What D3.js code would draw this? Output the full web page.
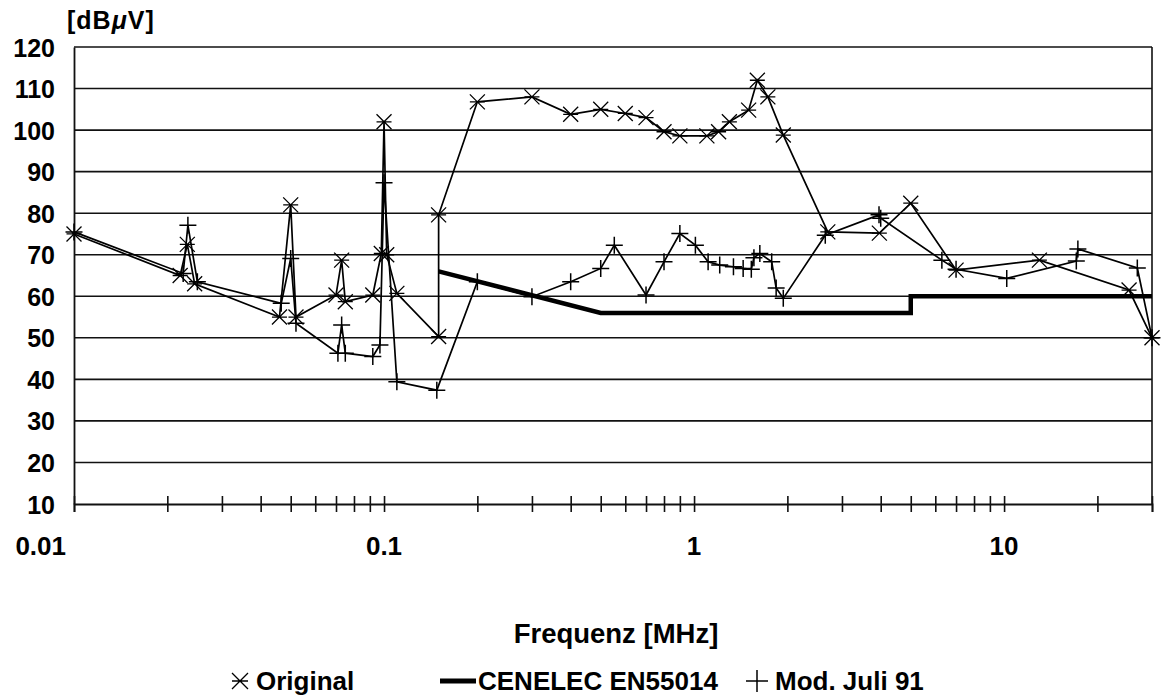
<!DOCTYPE html>
<html>
<head>
<meta charset="utf-8">
<script src="https://cdn.jsdelivr.net/npm/d3@7"></script>
<style>
  html, body { margin: 0; padding: 0; background: #fff; }
  svg text { font-family: "Liberation Sans", Arial, Helvetica, sans-serif; font-weight: bold; fill: #000; }
</style>
</head>
<body>
<svg id="chart" width="1161" height="699"></svg>
<script>
// Interference voltage spectrum, log frequency axis
const yTicks = [10, 20, 30, 40, 50, 60, 70, 80, 90, 100, 110, 120];
const xLabelTicks = [0.01, 0.1, 1, 10];
const xLabelText = ["0.01", "0.1", "1", "10"];

// "Original" measurement
const origFreq  = [0.01, 0.022, 0.0232, 0.0245, 0.046, 0.05, 0.052, 0.07, 0.073, 0.075, 0.092, 0.098, 0.1, 0.102, 0.11,
                   0.15, 0.15, 0.2, 0.3, 0.4, 0.5, 0.6, 0.7, 0.8, 0.9, 1.1, 1.2, 1.3, 1.5, 1.6, 1.73, 1.94,
                   2.7, 3.96, 5.0, 7.0, 13, 25.3, 30];
const origLevel = [75, 65, 72.5, 63, 55, 82, 55, 60.3, 68.7, 58.7, 60.3, 70.3, 102, 70, 60.7,
                   50.3, 79.6, 106.8, 108, 103.8, 105, 104, 103, 99.6, 98.6, 98.6, 99.6, 102, 104.8, 112, 108, 98.8,
                   75.5, 75.2, 82.4, 66.3, 68.7, 61.5, 50];

// CENELEC EN55014 limit
const limFreq  = [0.15, 0.5, 5, 5, 30];
const limLevel = [66, 56, 56, 60, 60];

// "Mod. Juli 91" measurement
const modFreq  = [0.01, 0.0225, 0.0233, 0.025, 0.0466, 0.05, 0.052, 0.071, 0.073, 0.075, 0.092, 0.097, 0.1, 0.11,
                  0.148, 0.2, 0.3, 0.4, 0.5, 0.553, 0.7, 0.8, 0.9, 1.01, 1.11, 1.21, 1.34, 1.44, 1.53, 1.56, 1.63, 1.78, 1.84, 1.94,
                  2.65, 3.95, 4.0, 6.3, 7.0, 10.2, 17.1, 17.3, 26.9, 30];
const modLevel = [75.5, 65.5, 77.1, 63.5, 58.3, 69.1, 53.5, 46.3, 53.1, 46.3, 45.5, 48.3, 87.3, 39.4,
                  37.4, 63.5, 59.9, 63.5, 66.7, 72.3, 60.3, 68.3, 75.1, 72.3, 68.3, 67.5, 67.1, 66.7, 66.5, 69.3, 70.3, 68.3, 62, 59.5,
                  74.7, 79.6, 78.8, 68.7, 66.5, 64.3, 68.5, 71.4, 66.8, 50];

const svg = d3.select("#chart");
const x = d3.scaleLog().domain([0.01, 30]).range([74, 1152]);
const y = d3.scaleLinear().domain([10, 120]).range([504, 47]);

// horizontal grid lines
svg.append("g").selectAll("line")
  .data(yTicks.filter(v => v > 10))
  .join("line")
  .attr("x1", x(0.01)).attr("x2", x(30))
  .attr("y1", d => y(d)).attr("y2", d => y(d))
  .attr("stroke", "#111").attr("stroke-width", 1.6);

// right frame edge
svg.append("line")
  .attr("x1", x(30)).attr("x2", x(30)).attr("y1", y(120)).attr("y2", y(10))
  .attr("stroke", "#111").attr("stroke-width", 1.6);

// y axis
const yAxis = d3.axisLeft(y).tickValues(yTicks).tickSize(0).tickPadding(19).tickFormat(d3.format("d"));
const gy = svg.append("g").attr("transform", `translate(${x(0.01)},0)`).call(yAxis);
gy.select(".domain").attr("stroke", "#111").attr("stroke-width", 1.8);
gy.selectAll("text").attr("font-size", 25).attr("dy", "0.36em");

// x axis: ticks at every 1..9 multiple, crossing the axis line
const minorTicks = [];
[0.01, 0.1, 1, 10].forEach(dec => {
  for (let k = 1; k <= 9; k++) {
    const v = +(dec * k).toPrecision(3);
    if (v <= 30) minorTicks.push(v);
  }
});
const xAxis = d3.axisBottom(x).tickValues(minorTicks).tickSize(8).tickFormat("");
const gx = svg.append("g").attr("transform", `translate(0,${y(10)})`).call(xAxis);
gx.select(".domain").attr("stroke", "#111").attr("stroke-width", 1.8);
gx.selectAll(".tick line").attr("y1", -8).attr("y2", 8).attr("stroke", "#111").attr("stroke-width", 1.6);

// x tick labels
svg.append("g").selectAll("text")
  .data(xLabelTicks)
  .join("text")
  .attr("x", (d, i) => i === 0 ? x(d) - 8 : x(d))
  .attr("y", 555)
  .attr("text-anchor", (d, i) => i === 0 ? "end" : "middle")
  .attr("font-size", 26)
  .text((d, i) => xLabelText[i]);

// unit label
const unit = svg.append("text").attr("x", 67).attr("y", 29).attr("font-size", 25).attr("letter-spacing", 1);
unit.append("tspan").text("[dB");
unit.append("tspan").attr("font-style", "italic").text("μ");
unit.append("tspan").text("V]");

// axis title
svg.append("text")
  .attr("x", 616).attr("y", 643)
  .attr("text-anchor", "middle")
  .attr("font-size", 27.5)
  .text("Frequenz [MHz]");

// series
const line = d3.line().x(d => x(d[0])).y(d => y(d[1]));
const origData = origFreq.map((f, i) => [f, origLevel[i]]);
const modData = modFreq.map((f, i) => [f, modLevel[i]]);
const limData = limFreq.map((f, i) => [f, limLevel[i]]);

svg.append("path").datum(limData).attr("d", line)
  .attr("fill", "none").attr("stroke", "#000").attr("stroke-width", 4.5);

svg.append("path").datum(origData).attr("d", line)
  .attr("fill", "none").attr("stroke", "#000").attr("stroke-width", 1.7);
svg.append("path").datum(modData).attr("d", line)
  .attr("fill", "none").attr("stroke", "#000").attr("stroke-width", 1.7);

// marker shapes
function starMark(g, cx, cy, r) {
  g.append("path")
    .attr("d", `M${cx - r},${cy - r}L${cx + r},${cy + r}M${cx - r},${cy + r}L${cx + r},${cy - r}M${cx - r},${cy}L${cx + r},${cy}`)
    .attr("stroke", "#000").attr("stroke-width", 1.3).attr("fill", "none");
}
function plusMark(g, cx, cy, r) {
  g.append("path")
    .attr("d", `M${cx - r},${cy}L${cx + r},${cy}M${cx},${cy - r}L${cx},${cy + r}`)
    .attr("stroke", "#000").attr("stroke-width", 1.5).attr("fill", "none");
}

const gOrig = svg.append("g");
origData.forEach(d => starMark(gOrig, x(d[0]), y(d[1]), 7.5));
const gMod = svg.append("g");
modData.forEach(d => plusMark(gMod, x(d[0]), y(d[1]), 8.5));

// legend
const lg = svg.append("g");
starMark(lg, 240, 681, 8);
lg.append("text").attr("x", 256).attr("y", 690).attr("font-size", 26).text("Original");
lg.append("line").attr("x1", 440).attr("x2", 476).attr("y1", 681).attr("y2", 681)
  .attr("stroke", "#000").attr("stroke-width", 5);
lg.append("text").attr("x", 478).attr("y", 690).attr("font-size", 26).text("CENELEC EN55014");
plusMark(lg, 757, 681, 11);
lg.append("text").attr("x", 775).attr("y", 690).attr("font-size", 26).text("Mod. Juli 91");
</script>
</body>
</html>
